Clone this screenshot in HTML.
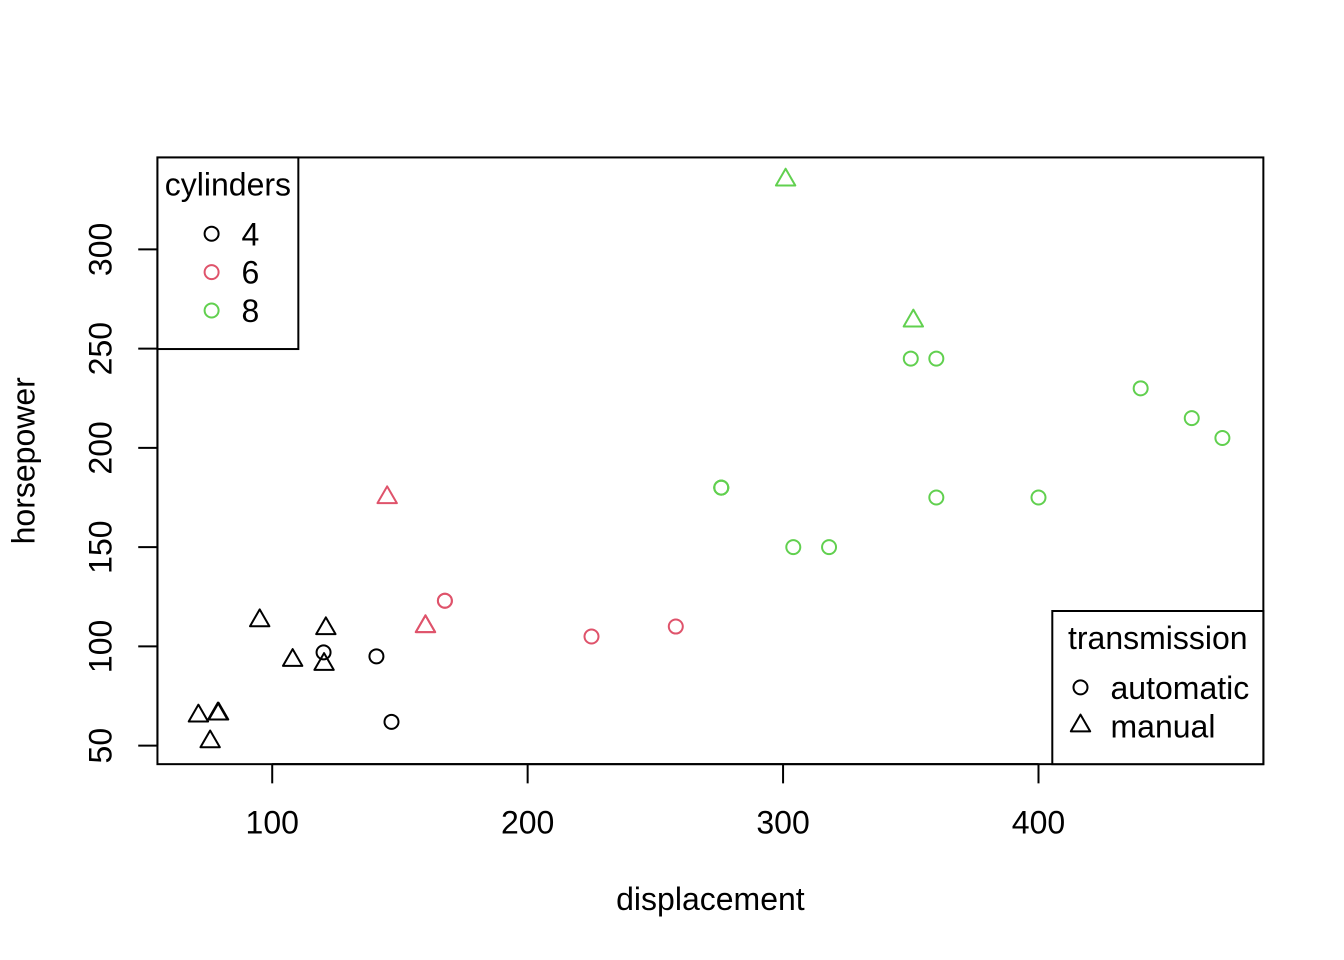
<!DOCTYPE html>
<html>
<head>
<meta charset="utf-8">
<style>
  html, body { margin: 0; padding: 0; background: #ffffff; }
  svg { display: block; }
  text { font-family: "Liberation Sans", Arial, Helvetica, sans-serif; font-size: 32px; fill: #000; }
</style>
</head>
<body>
<svg width="1344" height="960" viewBox="0 0 1344 960" xmlns="http://www.w3.org/2000/svg">
  <rect x="0" y="0" width="1344" height="960" fill="#ffffff"/>

  <!-- plot box -->
  <rect x="157.44" y="157.44" width="1105.92" height="606.72" fill="none" stroke="#000" stroke-width="2"/>

  <!-- x axis -->
  <g stroke="#000" stroke-width="2" fill="none">
    <line x1="272.22" y1="764.16" x2="1038.50" y2="764.16"/>
    <line x1="272.22" y1="764.16" x2="272.22" y2="783.36"/>
    <line x1="527.64" y1="764.16" x2="527.64" y2="783.36"/>
    <line x1="783.07" y1="764.16" x2="783.07" y2="783.36"/>
    <line x1="1038.50" y1="764.16" x2="1038.50" y2="783.36"/>
  </g>
  <g text-anchor="middle">
    <text x="272.22" y="833.3">100</text>
    <text x="527.64" y="833.3">200</text>
    <text x="783.07" y="833.3">300</text>
    <text x="1038.50" y="833.3">400</text>
  </g>

  <!-- y axis -->
  <g stroke="#000" stroke-width="2" fill="none">
    <line x1="157.44" y1="745.66" x2="157.44" y2="249.39"/>
    <line x1="157.44" y1="745.66" x2="138.24" y2="745.66"/>
    <line x1="157.44" y1="646.41" x2="138.24" y2="646.41"/>
    <line x1="157.44" y1="547.15" x2="138.24" y2="547.15"/>
    <line x1="157.44" y1="447.90" x2="138.24" y2="447.90"/>
    <line x1="157.44" y1="348.64" x2="138.24" y2="348.64"/>
    <line x1="157.44" y1="249.39" x2="138.24" y2="249.39"/>
  </g>
  <g text-anchor="middle">
    <text transform="translate(111.36,745.66) rotate(-90)">50</text>
    <text transform="translate(111.36,646.41) rotate(-90)">100</text>
    <text transform="translate(111.36,547.15) rotate(-90)">150</text>
    <text transform="translate(111.36,447.90) rotate(-90)">200</text>
    <text transform="translate(111.36,348.64) rotate(-90)">250</text>
    <text transform="translate(111.36,249.39) rotate(-90)">300</text>
  </g>

  <!-- axis titles -->
  <text x="710.4" y="910.1" text-anchor="middle">displacement</text>
  <text transform="translate(34.56,460.8) rotate(-90)" text-anchor="middle">horsepower</text>

  <!-- circles (automatic) -->
  <g fill="none" stroke-width="2">
    <circle cx="675.79" cy="626.55" r="7" stroke="#DF536B"/>
    <circle cx="936.33" cy="497.52" r="7" stroke="#61D04F"/>
    <circle cx="591.50" cy="636.48" r="7" stroke="#DF536B"/>
    <circle cx="936.33" cy="358.57" r="7" stroke="#61D04F"/>
    <circle cx="391.50" cy="721.84" r="7" stroke="#000000"/>
    <circle cx="376.43" cy="656.33" r="7" stroke="#000000"/>
    <circle cx="444.89" cy="600.75" r="7" stroke="#DF536B"/>
    <circle cx="444.89" cy="600.75" r="7" stroke="#DF536B"/>
    <circle cx="721.26" cy="487.60" r="7" stroke="#61D04F"/>
    <circle cx="721.26" cy="487.60" r="7" stroke="#61D04F"/>
    <circle cx="721.26" cy="487.60" r="7" stroke="#61D04F"/>
    <circle cx="1222.40" cy="437.97" r="7" stroke="#61D04F"/>
    <circle cx="1191.75" cy="418.12" r="7" stroke="#61D04F"/>
    <circle cx="1140.67" cy="388.34" r="7" stroke="#61D04F"/>
    <circle cx="323.56" cy="652.36" r="7" stroke="#000000"/>
    <circle cx="829.05" cy="547.15" r="7" stroke="#61D04F"/>
    <circle cx="793.29" cy="547.15" r="7" stroke="#61D04F"/>
    <circle cx="910.78" cy="358.57" r="7" stroke="#61D04F"/>
    <circle cx="1038.50" cy="497.52" r="7" stroke="#61D04F"/>
  </g>

  <!-- triangles (manual) -->
  <g fill="none" stroke-width="2" stroke-linejoin="round">
    <polygon points="425.47,615.35 435.17,632.15 415.77,632.15" stroke="#DF536B"/>
    <polygon points="425.47,615.35 435.17,632.15 415.77,632.15" stroke="#DF536B"/>
    <polygon points="292.65,649.10 302.35,665.90 282.95,665.90" stroke="#000000"/>
    <polygon points="217.81,702.70 227.51,719.50 208.11,719.50" stroke="#000000"/>
    <polygon points="210.15,730.49 219.85,747.29 200.45,747.29" stroke="#000000"/>
    <polygon points="198.40,704.68 208.10,721.48 188.70,721.48" stroke="#000000"/>
    <polygon points="218.58,702.70 228.28,719.50 208.88,719.50" stroke="#000000"/>
    <polygon points="324.07,653.07 333.77,669.87 314.37,669.87" stroke="#000000"/>
    <polygon points="259.70,609.40 269.40,626.20 250.00,626.20" stroke="#000000"/>
    <polygon points="913.34,309.65 923.04,326.45 903.64,326.45" stroke="#61D04F"/>
    <polygon points="387.16,486.32 396.86,503.12 377.46,503.12" stroke="#DF536B"/>
    <polygon points="785.62,168.71 795.32,185.51 775.92,185.51" stroke="#61D04F"/>
    <polygon points="325.86,617.34 335.56,634.14 316.16,634.14" stroke="#000000"/>
  </g>

  <!-- legend: cylinders -->
  <rect x="157.44" y="157.44" width="140.9" height="191.6" fill="#ffffff" stroke="#000" stroke-width="2"/>
  <text x="227.9" y="195.4" text-anchor="middle">cylinders</text>
  <g fill="none" stroke-width="2">
    <circle cx="211.6" cy="233.7" r="7" stroke="#000000"/>
    <circle cx="211.6" cy="272.1" r="7" stroke="#DF536B"/>
    <circle cx="211.6" cy="310.5" r="7" stroke="#61D04F"/>
  </g>
  <text x="241.5" y="245.3">4</text>
  <text x="241.5" y="283.7">6</text>
  <text x="241.5" y="322.1">8</text>

  <!-- legend: transmission -->
  <rect x="1052.3" y="611.0" width="211.06" height="153.16" fill="#ffffff" stroke="#000" stroke-width="2"/>
  <text x="1157.8" y="649.0" text-anchor="middle">transmission</text>
  <circle cx="1080.5" cy="687.4" r="7" fill="none" stroke="#000" stroke-width="2"/>
  <polygon points="1080.5,714.6 1090.2,731.4 1070.8,731.4" fill="none" stroke="#000" stroke-width="2" stroke-linejoin="round"/>
  <text x="1110.5" y="698.9">automatic</text>
  <text x="1110.5" y="737.3">manual</text>
</svg>
</body>
</html>
